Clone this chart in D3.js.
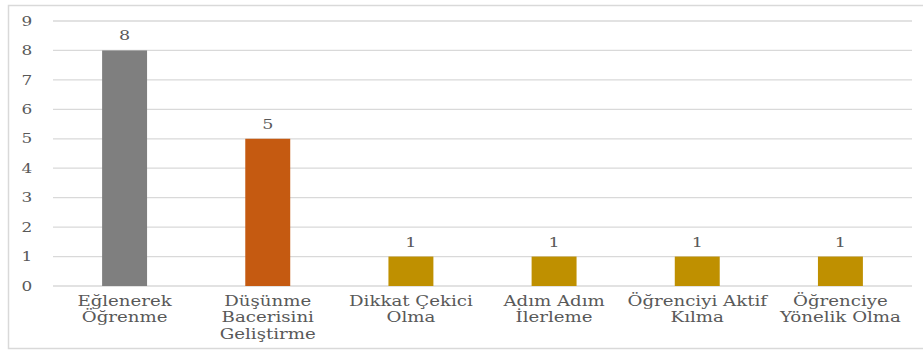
<!DOCTYPE html>
<html>
<head>
<meta charset="utf-8">
<script src="https://cdn.jsdelivr.net/npm/d3@7"></script>
<style>
  html, body { margin: 0; padding: 0; background: #ffffff; }
  svg { display: block; }
</style>
</head>
<body>
<svg id="chart" width="923" height="351"></svg>
<script>
// Categories (multi-line labels), counts and bar colours
const categories = [
  ["Eğlenerek", "Öğrenme"],
  ["Düşünme", "Bacerisini", "Geliştirme"],
  ["Dikkat Çekici", "Olma"],
  ["Adım Adım", "İlerleme"],
  ["Öğrenciyi Aktif", "Kılma"],
  ["Öğrenciye", "Yönelik Olma"]
];
const values = [8, 5, 1, 1, 1, 1];
const barColors = ["#7f7f7f", "#c55a11", "#bf9000", "#bf9000", "#bf9000", "#bf9000"];
const yTicks = [0, 1, 2, 3, 4, 5, 6, 7, 8, 9];

const svg = d3.select("#chart");
const textColor = "#595959";
const fontFamily = "'DejaVu Serif', serif";
const wide = 1.3; // horizontal widening of the serif lettering

// Outer frame
svg.append("rect")
  .attr("x", 8.5).attr("y", 5.5)
  .attr("width", 930).attr("height", 343)
  .attr("fill", "none")
  .attr("stroke", "#d9d9d9")
  .attr("stroke-width", 1.5);

const plot = { left: 53, right: 912, top: 21, bottom: 286 };

const x = d3.scaleBand()
  .domain(d3.range(categories.length))
  .range([plot.left, plot.right])
  .paddingInner(0.686)
  .paddingOuter(0.343);

const y = d3.scaleLinear()
  .domain([0, 9])
  .range([plot.bottom, plot.top]);

// Gridlines
svg.append("g")
  .selectAll("line")
  .data(yTicks)
  .join("line")
  .attr("x1", plot.left).attr("x2", plot.right)
  .attr("y1", d => y(d)).attr("y2", d => y(d))
  .attr("stroke", "#d9d9d9")
  .attr("stroke-width", 1.3);

// Y axis labels
const yAxis = svg.append("g")
  .attr("transform", `translate(${plot.left - 26},0)`)
  .call(d3.axisLeft(y).tickValues(yTicks).tickSize(0).tickPadding(0));
yAxis.select(".domain").remove();
yAxis.selectAll("text")
  .attr("text-anchor", "middle")
  .attr("fill", textColor)
  .attr("font-family", fontFamily)
  .attr("font-size", 13)
  .attr("transform", `scale(${wide},1)`);

// Bars
svg.append("g")
  .selectAll("rect")
  .data(values)
  .join("rect")
  .attr("x", (d, i) => x(i))
  .attr("y", d => y(d))
  .attr("width", x.bandwidth())
  .attr("height", d => y(0) - y(d))
  .attr("fill", (d, i) => barColors[i]);

// Value labels
svg.append("g")
  .selectAll("text")
  .data(values)
  .join("text")
  .attr("transform", (d, i) =>
    `translate(${x(i) + x.bandwidth() / 2},${y(d) - 10}) scale(${wide},1)`)
  .attr("text-anchor", "middle")
  .attr("fill", textColor)
  .attr("font-family", fontFamily)
  .attr("font-size", 13.5)
  .text(d => d);

// Category labels
const catG = svg.append("g");
categories.forEach((lines, i) => {
  const t = catG.append("text")
    .attr("transform", `translate(${x(i) + x.bandwidth() / 2},306) scale(${wide},1)`)
    .attr("text-anchor", "middle")
    .attr("fill", textColor)
    .attr("font-family", fontFamily)
    .attr("font-size", 14);
  lines.forEach((line, j) => {
    t.append("tspan")
      .attr("x", 0)
      .attr("dy", j === 0 ? 0 : 16.5)
      .text(line);
  });
});
</script>
</body>
</html>
